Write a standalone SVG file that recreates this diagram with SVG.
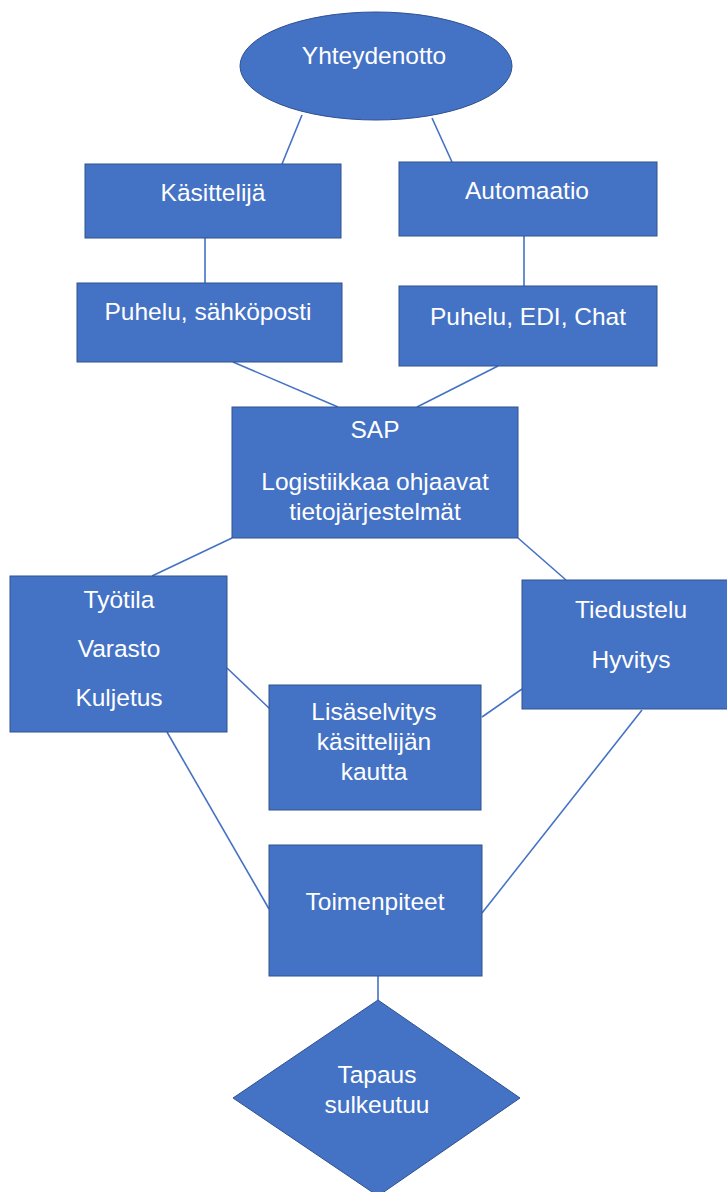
<svg xmlns="http://www.w3.org/2000/svg" width="727" height="1192" viewBox="0 0 727 1192">
<style>
.n{fill:#4472C4;stroke:#2F528F;stroke-width:1}
.c{stroke:#4472C4;stroke-width:1.6;fill:none}
.t{font-family:"Liberation Sans",Arial,sans-serif;font-size:24.5px;fill:#FFFFFF;text-anchor:middle}
</style>
<rect width="727" height="1192" fill="#FFFFFF"/>
<g id="connectors">
<line class="c" x1="302" y1="115" x2="282" y2="164"/>
<line class="c" x1="432" y1="118" x2="452" y2="162"/>
<line class="c" x1="205" y1="238" x2="205" y2="283"/>
<line class="c" x1="524" y1="236" x2="524" y2="286"/>
<line class="c" x1="233" y1="362" x2="338" y2="407"/>
<line class="c" x1="498" y1="366" x2="417" y2="407"/>
<line class="c" x1="232" y1="538" x2="152" y2="576"/>
<line class="c" x1="518" y1="538" x2="566" y2="580"/>
<line class="c" x1="227" y1="668" x2="270" y2="709"/>
<line class="c" x1="482" y1="717" x2="522" y2="689"/>
<line class="c" x1="167" y1="732" x2="269" y2="909"/>
<line class="c" x1="642" y1="710" x2="482" y2="913"/>
<line class="c" x1="378" y1="976" x2="378" y2="1000"/>
</g>
<g id="yhteydenotto">
<ellipse class="n" cx="376" cy="66" rx="136" ry="54"/>
<text class="t" x="374" y="64">Yhteydenotto</text>
</g>
<g id="kasittelija">
<rect class="n" x="85" y="164" width="256" height="74"/>
<text class="t" x="213" y="201">Käsittelijä</text>
</g>
<g id="automaatio">
<rect class="n" x="399" y="162" width="258" height="74"/>
<text class="t" x="527" y="199">Automaatio</text>
</g>
<g id="puhelu-sahkoposti">
<rect class="n" x="77" y="283" width="265" height="79"/>
<text class="t" x="208" y="320">Puhelu, sähköposti</text>
</g>
<g id="puhelu-edi-chat">
<rect class="n" x="399" y="286" width="258" height="80"/>
<text class="t" x="528" y="325">Puhelu, EDI, Chat</text>
</g>
<g id="sap">
<rect class="n" x="232" y="407" width="286" height="131"/>
<text class="t" x="375" y="438">SAP</text>
<text class="t" x="375" y="490">Logistiikkaa ohjaavat</text>
<text class="t" x="375" y="520">tietojärjestelmät</text>
</g>
<g id="tyotila">
<rect class="n" x="10" y="576" width="217" height="156"/>
<text class="t" x="119" y="608">Työtila</text>
<text class="t" x="119" y="657">Varasto</text>
<text class="t" x="119" y="706">Kuljetus</text>
</g>
<g id="tiedustelu">
<rect class="n" x="522" y="580" width="208" height="129"/>
<text class="t" x="631" y="618">Tiedustelu</text>
<text class="t" x="631" y="668">Hyvitys</text>
</g>
<g id="lisaselvitys">
<rect class="n" x="269" y="685" width="212" height="125"/>
<text class="t" x="374" y="720">Lisäselvitys</text>
<text class="t" x="374" y="750">käsittelijän</text>
<text class="t" x="374" y="780">kautta</text>
</g>
<g id="toimenpiteet">
<rect class="n" x="269" y="845" width="213" height="131"/>
<text class="t" x="375" y="910">Toimenpiteet</text>
</g>
<g id="tapaus-sulkeutuu">
<polygon class="n" points="378,1000 520,1098 378,1196 233,1098"/>
<text class="t" x="377" y="1083">Tapaus</text>
<text class="t" x="377" y="1113">sulkeutuu</text>
</g>
</svg>
